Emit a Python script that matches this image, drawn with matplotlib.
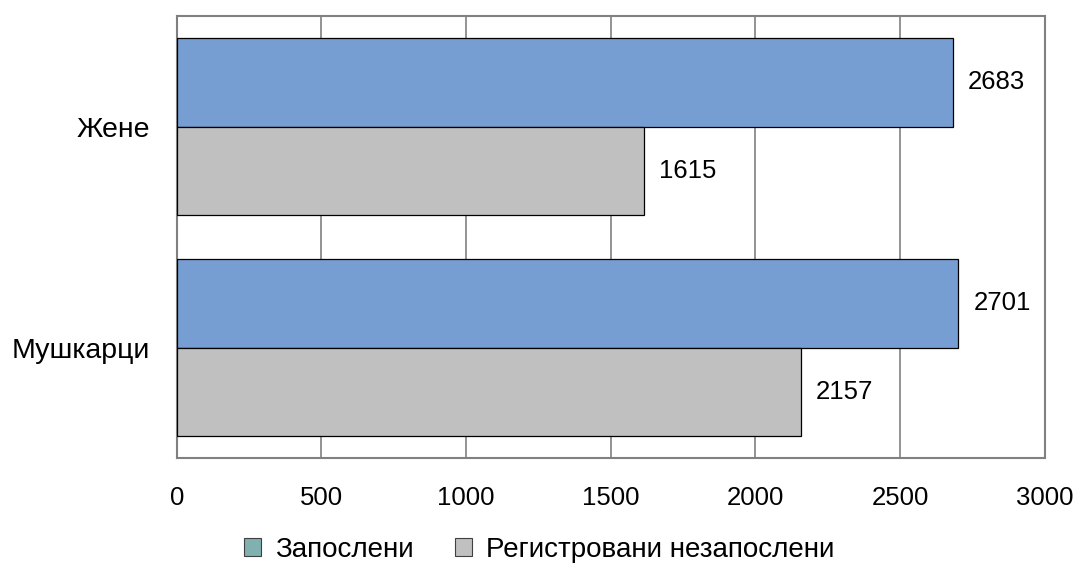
import matplotlib.pyplot as plt
from matplotlib.patches import Patch

plt.rcParams['font.family'] = ['Liberation Sans', 'DejaVu Sans']

# Податоци
kategorii = ["Мушкарци", "Жене"]
zaposleni = [2701, 2683]
nezaposleni = [2157, 1615]
serii = ["Запослени", "Регистровани незапослени"]

fig = plt.figure(figsize=(10.78, 5.74), dpi=100)
ax = fig.add_axes([0.164, 0.202, 0.805, 0.770])

poz = list(range(len(kategorii)))
visina = 0.4
b1 = ax.barh([p + visina / 2 for p in poz], zaposleni, height=visina,
             color="#779ED2", edgecolor="black", linewidth=0.9, zorder=3)
b2 = ax.barh([p - visina / 2 for p in poz], nezaposleni, height=visina,
             color="#C0C0C0", edgecolor="black", linewidth=0.9, zorder=3)

for bars in (b1, b2):
    for b in bars:
        ax.annotate(str(int(b.get_width())),
                    (b.get_width(), b.get_y() + b.get_height() / 2),
                    xytext=(11, 0), textcoords="offset points",
                    ha="left", va="center", fontsize=18.5)

ax.set_xlim(0, 3000)
ax.set_ylim(-0.5, 1.5)
ax.set_xticks(range(0, 3001, 500))
ax.set_yticks(poz)
ax.set_yticklabels(kategorii)
ax.tick_params(axis="x", length=0, pad=20, labelsize=18.5)
ax.tick_params(axis="y", length=0, pad=19, labelsize=20.5)
ax.grid(axis="x", color="#808080", linewidth=1.2, zorder=0)
for s in ax.spines.values():
    s.set_color("#808080")
    s.set_linewidth(1.5)

rucki = [Patch(facecolor="#80B0B0", edgecolor="#404040", linewidth=0.8),
         Patch(facecolor="#C0C0C0", edgecolor="#404040", linewidth=0.8)]
fig.legend(rucki, serii, loc="center", bbox_to_anchor=(0.5, 0.042), ncol=2,
           frameon=False, fontsize=20, handlelength=0.6, handleheight=0.6,
           handletextpad=0.5, columnspacing=1.5)

fig.savefig("out.png", dpi=100)
